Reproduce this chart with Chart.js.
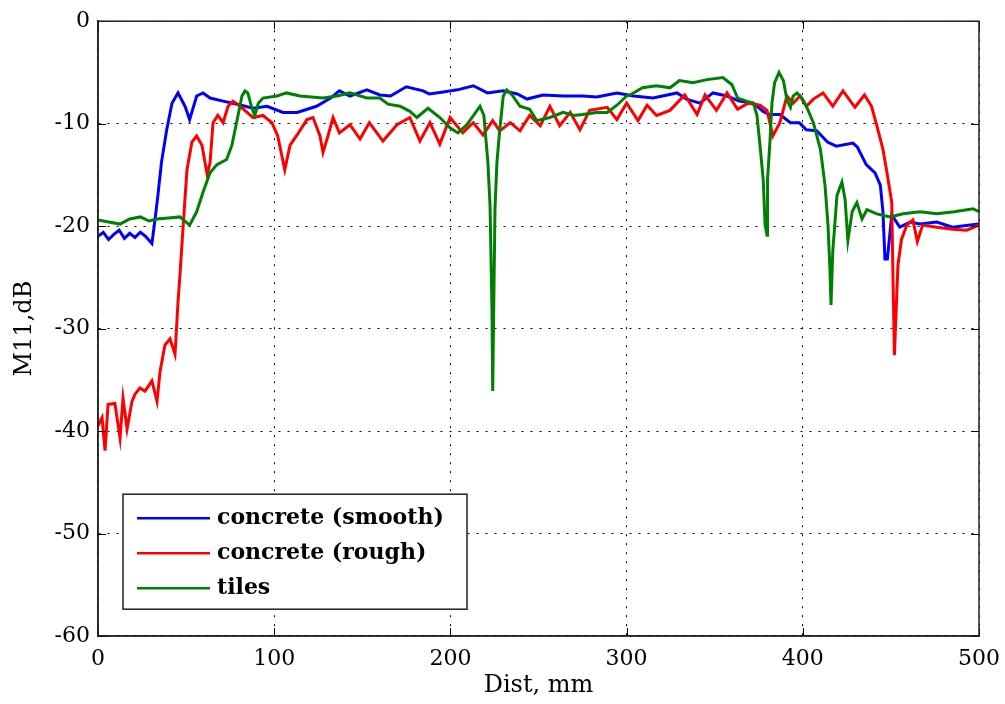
<!DOCTYPE html>
<html>
<head>
<meta charset="utf-8">
<title>M11 vs distance</title>
<script src="https://cdn.jsdelivr.net/npm/chart.js@4/dist/chart.umd.min.js"></script>
<style>
  html, body { margin: 0; padding: 0; background: #fff; }
  canvas { display: block; }
</style>
</head>
<body>
<canvas id="chart" width="1005" height="704"></canvas>
<script>
// distance along the scan (mm) and reflection magnitude M11 (dB)
const smoothDist = [0, 3, 6, 9, 12, 15, 18, 21, 24, 27, 30.6, 32.4, 34, 36, 39, 42, 45.4, 49.4, 52, 56, 59.6, 63.6, 71, 79, 88, 96, 105, 113, 124, 132, 137, 143, 152.6, 160, 166, 175, 184.5, 188, 196, 204, 213, 221, 230, 238, 243.5, 252.5, 264, 275, 283, 294.5, 304, 315, 328.6, 334, 341.6, 349, 357, 364, 372, 377.5, 381, 387, 393, 398, 402, 408, 414, 419, 428.5, 431, 436, 441, 444, 445.5, 446.6, 448, 450.5, 455, 461, 466.5, 476, 485, 495, 500];
const smoothM11 = [-21.0, -20.6, -21.3, -20.8, -20.4, -21.2, -20.7, -21.1, -20.6, -21.0, -21.7, -19.3, -17.0, -13.8, -10.6, -8.0, -7.0, -8.3, -9.6, -7.3, -7.0, -7.5, -7.8, -8.1, -8.5, -8.3, -8.9, -8.9, -8.3, -7.5, -6.8, -7.3, -6.7, -7.2, -7.3, -6.4, -6.8, -7.1, -6.9, -6.7, -6.3, -7.0, -6.8, -7.1, -7.6, -7.2, -7.3, -7.3, -7.4, -7.0, -7.3, -7.5, -7.0, -7.6, -8.0, -7.0, -7.3, -7.8, -8.0, -8.8, -9.1, -9.1, -9.9, -9.9, -10.6, -10.7, -11.8, -12.2, -11.9, -12.3, -14.0, -14.8, -16.0, -18.6, -23.2, -23.2, -18.9, -20.1, -19.6, -19.8, -19.6, -20.1, -19.9, -19.8];

const roughDist = [0, 2.3, 4, 5.7, 9.6, 12.5, 14.2, 16.5, 19.3, 21, 23.8, 26.7, 30.6, 33.5, 35.2, 38, 40.9, 43.7, 44.8, 45.4, 46.5, 48.2, 50.5, 53.3, 56, 59, 62, 63.6, 65.3, 68, 71, 73.8, 76.6, 80.6, 84.6, 88, 93.6, 98.7, 102, 106, 109, 113, 118.6, 122, 126, 127.7, 130.5, 133.4, 137, 143, 148.7, 154, 161.7, 169.7, 177, 182.7, 188.4, 194, 199.8, 207, 213, 218.5, 224, 228, 234, 239.5, 245, 251, 256.5, 262, 268, 273.5, 279, 289, 294.5, 300, 306.5, 311.6, 317, 324.6, 333, 340, 344.5, 351, 357, 363, 369, 375.7, 379.7, 383, 387, 391, 394.5, 398.4, 402, 406, 411.5, 417, 422.8, 429.6, 435, 439, 442, 445.5, 448, 450.5, 451, 452, 454, 456, 459, 462.5, 465, 468, 476, 485, 493, 500];
const roughM11 = [-39.5, -38.7, -41.9, -37.4, -37.3, -40.7, -36.8, -39.8, -37.1, -36.4, -35.8, -36.1, -35.1, -37.1, -34.2, -31.6, -31.0, -32.5, -29.3, -27.4, -24.8, -20.3, -14.5, -11.8, -11.2, -12.1, -15.0, -13.8, -9.9, -9.2, -9.9, -8.3, -7.8, -8.3, -8.9, -9.4, -9.2, -9.9, -11.2, -14.5, -12.1, -11.1, -9.6, -9.4, -11.2, -12.8, -11.2, -9.4, -10.9, -10.1, -11.5, -9.9, -11.7, -10.1, -9.4, -11.7, -9.9, -12.0, -9.4, -10.9, -9.9, -11.1, -9.7, -10.7, -9.9, -10.7, -9.2, -10.2, -8.3, -10.2, -8.9, -10.6, -8.7, -8.4, -9.6, -8.0, -9.7, -8.2, -9.2, -8.7, -7.2, -9.1, -7.2, -8.7, -7.0, -8.6, -8.0, -8.2, -8.7, -11.2, -9.9, -7.3, -8.0, -7.3, -8.3, -7.6, -7.0, -8.3, -6.8, -8.4, -7.2, -8.3, -10.2, -12.5, -15.0, -17.7, -23.2, -32.6, -23.8, -21.3, -19.9, -19.4, -21.5, -19.9, -20.1, -20.3, -20.4, -19.9];

const tilesDist = [0, 6, 12.5, 18, 24, 29, 33.5, 40, 46.5, 52, 56, 59.6, 63.6, 67.5, 73, 76, 79, 81.7, 83.4, 85, 87.4, 89, 91, 93.6, 101.6, 107, 114.6, 127.7, 135.6, 143, 152.6, 160, 164.6, 171.4, 177, 181, 187.3, 194, 199.8, 204.3, 209.4, 216.8, 219, 221.3, 222.5, 223.6, 224, 225.3, 226.4, 228, 230, 232, 235, 239.5, 245, 249, 256.5, 264, 270, 275, 283, 289, 294.5, 300, 302, 309, 317, 324.6, 330, 337.7, 345.6, 354.7, 359.8, 363, 368, 372, 374, 375.7, 377.5, 378.6, 379.7, 380, 381.4, 382.5, 384, 386.5, 389, 391, 393, 394.5, 396.7, 399.5, 402, 406, 410, 412.6, 414.3, 415.4, 416, 417, 419.4, 422.2, 424, 425.6, 428, 430.7, 433.6, 436.4, 442, 449.5, 457, 466.5, 476, 486, 496.6, 500];
const tilesM11 = [-19.4, -19.6, -19.8, -19.3, -19.1, -19.5, -19.3, -19.2, -19.1, -19.9, -18.6, -16.7, -14.8, -14.0, -13.5, -12.1, -9.6, -7.3, -6.8, -7.0, -8.5, -9.2, -8.0, -7.5, -7.3, -7.0, -7.3, -7.5, -7.3, -7.0, -7.5, -7.5, -8.1, -8.3, -8.8, -9.4, -8.5, -9.4, -10.4, -10.9, -10.1, -8.3, -9.2, -13.8, -18.0, -28.3, -36.1, -18.3, -13.8, -10.6, -7.3, -6.7, -7.2, -8.3, -8.6, -9.7, -9.4, -8.9, -9.2, -9.1, -8.9, -8.9, -8.2, -7.3, -7.2, -6.5, -6.3, -6.5, -5.8, -6.0, -5.7, -5.5, -6.2, -7.5, -7.8, -8.0, -9.2, -12.1, -15.4, -19.9, -20.9, -15.4, -11.6, -8.0, -6.0, -5.0, -5.8, -7.7, -8.4, -7.3, -7.0, -7.5, -8.3, -9.9, -12.5, -16.0, -19.9, -24.2, -27.7, -22.5, -17.0, -15.7, -17.4, -21.4, -18.6, -17.7, -19.3, -18.4, -18.8, -19.1, -18.8, -18.6, -18.8, -18.6, -18.3, -18.6];

const seriesNames = ['concrete (smooth)', 'concrete (rough)', 'tiles'];
const seriesColors = ['#0000ff', '#ff0000', '#008000'];

const xTicks = [0, 100, 200, 300, 400, 500];
const yTicks = [0, -10, -20, -30, -40, -50, -60];

const toPoints = (xs, ys) => xs.map((x, i) => ({ x: x, y: ys[i] }));

// boxed legend sitting inside the plot, plus inward tick marks and frame
const axesBox = {
  id: 'axesBox',
  afterDraw(chart) {
    const ctx = chart.ctx;
    const a = chart.chartArea;
    const xs = chart.scales.x, ys = chart.scales.y;
    ctx.save();
    ctx.strokeStyle = '#000';
    ctx.lineWidth = 1;
    ctx.beginPath();
    xTicks.forEach(v => {
      const px = Math.round(xs.getPixelForValue(v)) + 0.5;
      ctx.moveTo(px, a.bottom); ctx.lineTo(px, a.bottom - 8);
      ctx.moveTo(px, a.top); ctx.lineTo(px, a.top + 8);
    });
    yTicks.forEach(v => {
      const py = Math.round(ys.getPixelForValue(v)) + 0.5;
      ctx.moveTo(a.left, py); ctx.lineTo(a.left + 8, py);
      ctx.moveTo(a.right, py); ctx.lineTo(a.right - 8, py);
    });
    ctx.stroke();
    ctx.lineWidth = 1.5;
    ctx.strokeStyle = '#222';
    ctx.strokeRect(a.left, a.top, a.right - a.left, a.bottom - a.top);

    // legend
    const bx = a.left + 25, by = a.top + 473, bw = 344, bh = 115;
    ctx.fillStyle = '#fff';
    ctx.fillRect(bx, by, bw, bh);
    ctx.lineWidth = 1.5;
    ctx.strokeStyle = '#222';
    ctx.strokeRect(bx, by, bw, bh);
    ctx.font = 'bold 22px "DejaVu Serif"';
    ctx.textBaseline = 'middle';
    ctx.textAlign = 'left';
    chart.data.datasets.forEach((ds, i) => {
      const ry = by + 24 + i * 35;
      ctx.strokeStyle = ds.borderColor;
      ctx.lineWidth = 2.5;
      ctx.beginPath();
      ctx.moveTo(bx + 14, ry); ctx.lineTo(bx + 87, ry);
      ctx.stroke();
      ctx.fillStyle = '#000';
      ctx.fillText(ds.label, bx + 94, ry);
    });
    ctx.restore();
  }
};

const tickFont = { family: '"DejaVu Serif"', size: 22 };
const titleFont = { family: '"DejaVu Serif"', size: 24 };

new Chart(document.getElementById('chart'), {
  type: 'line',
  data: {
    datasets: [
      { label: seriesNames[0], data: toPoints(smoothDist, smoothM11), borderColor: seriesColors[0], order: 2 },
      { label: seriesNames[1], data: toPoints(roughDist, roughM11), borderColor: seriesColors[1], order: 1 },
      { label: seriesNames[2], data: toPoints(tilesDist, tilesM11), borderColor: seriesColors[2], order: 0 }
    ]
  },
  options: {
    responsive: false,
    animation: false,
    devicePixelRatio: 1,
    layout: { padding: { top: 18, right: 26, left: 0, bottom: 0 } },
    elements: {
      line: { borderWidth: 3, tension: 0, fill: false },
      point: { radius: 0 }
    },
    plugins: {
      legend: { display: false },
      tooltip: { enabled: false }
    },
    scales: {
      x: {
        type: 'linear',
        min: 0,
        max: 500,
        afterBuildTicks: s => { s.ticks = xTicks.map(v => ({ value: v })); },
        afterFit: s => { s.height = 68; s.paddingLeft = 0; s.paddingRight = 0; },
        ticks: { font: tickFont, color: '#000', padding: 10 },
        grid: { color: '#000', lineWidth: 1, drawTicks: false },
        border: { display: true, color: '#222', width: 1.5, dash: [2, 7] },
        title: { display: true, text: 'Dist, mm', font: titleFont, color: '#000', padding: { top: 0, bottom: 4 } }
      },
      y: {
        min: -60,
        max: 0,
        afterBuildTicks: s => { s.ticks = yTicks.map(v => ({ value: v })); },
        afterFit: s => { s.width = 98; },
        ticks: { font: tickFont, color: '#000', padding: 8 },
        grid: { color: '#000', lineWidth: 1, drawTicks: false },
        border: { display: true, color: '#222', width: 1.5, dash: [2, 7] },
        title: { display: true, text: 'M11,dB', font: titleFont, color: '#000', padding: { top: 10, bottom: 0 } }
      }
    }
  },
  plugins: [axesBox]
});
</script>
</body>
</html>
